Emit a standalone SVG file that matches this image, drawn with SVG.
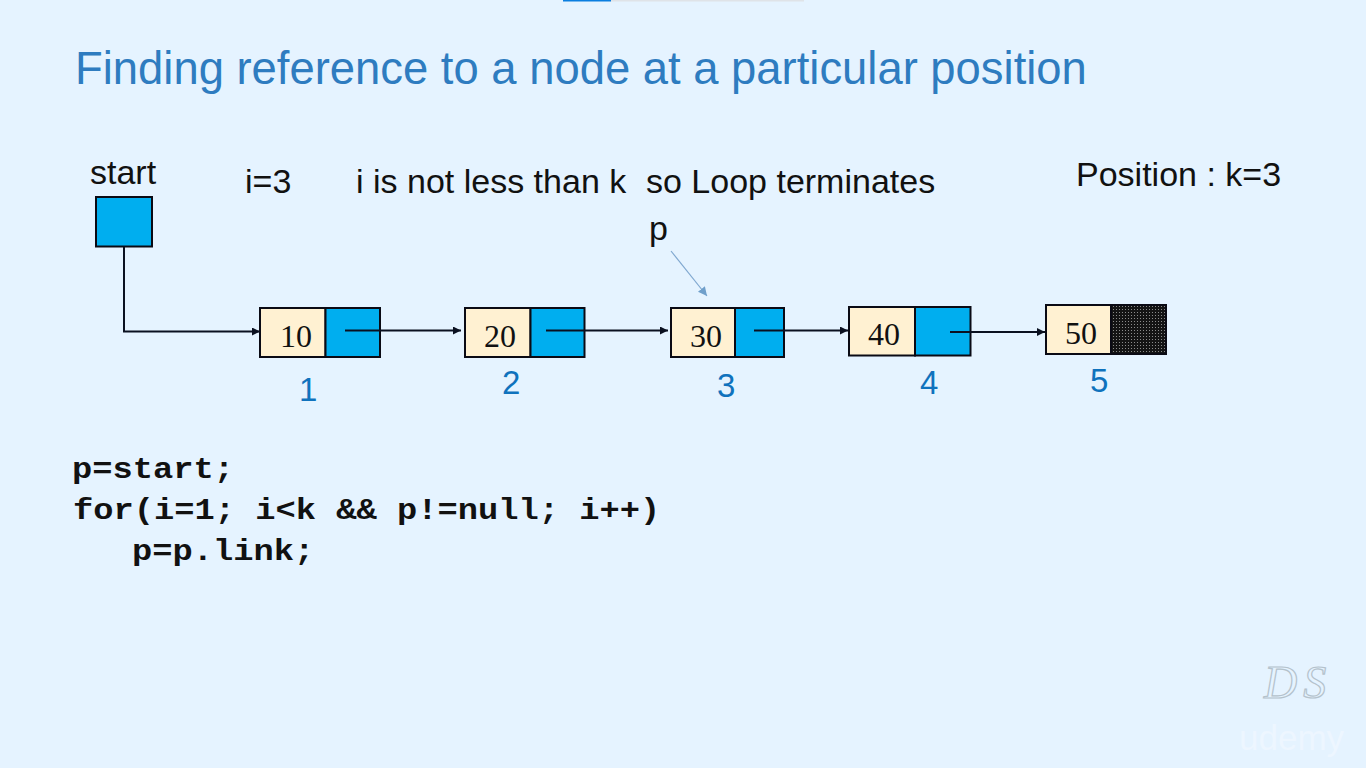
<svg xmlns="http://www.w3.org/2000/svg" width="1366" height="768" viewBox="0 0 1366 768">
<style>
.s{font-family:"Liberation Sans",Arial,sans-serif}
.t{font-size:34px;fill:#111}
.n{font-size:33px;fill:#0f72bd}
.v{font-family:"Liberation Serif","Times New Roman",serif;font-size:32px;fill:#111;text-anchor:middle}
.c{font-family:"Liberation Mono","Courier New",monospace;font-weight:bold;font-size:30px;fill:#111}
.d{fill:#fff1d2;stroke:#0a0a14;stroke-width:2}
.b{fill:#00aeef;stroke:#0a0a14;stroke-width:2}
.l{fill:none;stroke:#0a1020;stroke-width:2}
</style>
<defs>
<marker id="a" markerUnits="userSpaceOnUse" markerWidth="9" markerHeight="8" refX="8" refY="4" orient="auto"><path d="M0 0L8 4L0 8Z" fill="#0a1020"/></marker>
<marker id="a2" markerUnits="userSpaceOnUse" markerWidth="10" markerHeight="9" refX="9" refY="4.5" orient="auto"><path d="M0 0L9 4.5L0 9Z" fill="#6f9fcb"/></marker>
<pattern id="dots" width="3" height="3" patternUnits="userSpaceOnUse"><rect width="3" height="3" fill="#141414"/><rect width="1" height="1" fill="#8a8a8a"/></pattern>
</defs>
<rect width="1366" height="768" fill="#e5f3ff"/>
<rect x="563" y="0" width="48" height="1.5" fill="#0a7ee0"/>
<rect x="611" y="0" width="193" height="1.5" fill="#dfe3e8"/>
<text class="s" x="75" y="84" font-size="45.4" fill="#2e7cc0">Finding reference to a node at a particular position</text>
<text class="s t" x="90" y="184">start</text>
<text class="s t" x="245" y="193">i=3</text>
<text class="s t" x="356" y="193">i is not less than k</text>
<text class="s t" x="646" y="193">so Loop terminates</text>
<text class="s t" x="1076" y="186">Position : k=3</text>
<text class="s t" x="649" y="240">p</text>
<g id="start"><rect class="b" x="96" y="197" width="56" height="49.500"/></g>
<g id="node1"><rect class="d" x="260" y="308" width="65.500" height="49"/><rect class="b" x="325.500" y="308" width="54.500" height="49"/><text class="v" x="296" y="347">10</text></g>
<g id="node2"><rect class="d" x="465" y="308" width="65.500" height="49"/><rect class="b" x="530.500" y="308" width="54" height="49"/><text class="v" x="500" y="347">20</text></g>
<g id="node3"><rect class="d" x="671" y="308" width="64" height="49"/><rect class="b" x="735" y="308" width="49" height="49"/><text class="v" x="706" y="347">30</text></g>
<g id="node4"><rect class="d" x="849" y="307" width="66" height="48.500"/><rect class="b" x="915" y="307" width="55.500" height="48.500"/><text class="v" x="884" y="345">40</text></g>
<g id="node5"><rect class="d" x="1046" y="305" width="65" height="49"/><rect x="1111" y="305" width="55" height="49" fill="url(#dots)" stroke="#0a0a14" stroke-width="2"/><text class="v" x="1081" y="344">50</text></g>
<g id="connectors">
<path class="l" d="M124 247V331.500H260" marker-end="url(#a)"/>
<path class="l" d="M345 330.500H461" marker-end="url(#a)"/>
<path class="l" d="M546 330.500H668" marker-end="url(#a)"/>
<path class="l" d="M754 330.500H848" marker-end="url(#a)"/>
<path class="l" d="M950 332H1045" marker-end="url(#a)"/>
<path d="M671 251L707 296" fill="none" stroke="#80a8d0" stroke-width="1.200" marker-end="url(#a2)"/>
</g>
<text class="s n" x="299" y="401">1</text>
<text class="s n" x="502" y="394">2</text>
<text class="s n" x="717" y="397">3</text>
<text class="s n" x="920" y="394">4</text>
<text class="s n" x="1090" y="392">5</text>
<text class="c" transform="translate(72 478) scale(1.125 1)">p=start;</text>
<text class="c" transform="translate(73 519) scale(1.125 1)">for(i=1; i&lt;k &amp;&amp; p!=null; i++)</text>
<text class="c" transform="translate(132 560) scale(1.125 1)">p=p.link;</text>
<text x="1264" y="698" font-family="'Liberation Serif',serif" font-style="italic" font-size="46" letter-spacing="6" fill="none" stroke="#b4c2cc" stroke-width="1.200">DS</text>
<text class="s" x="1239" y="750" font-size="35" fill="#edf6ff">udemy</text>
</svg>
